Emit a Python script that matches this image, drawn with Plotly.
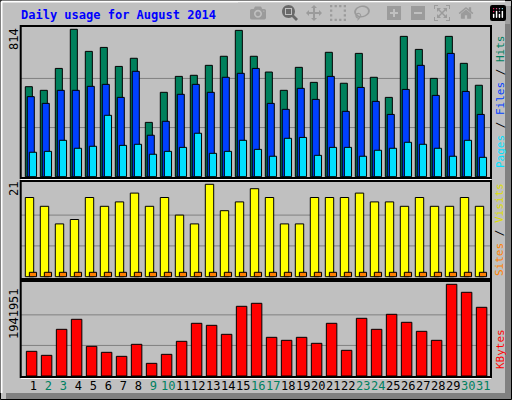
import plotly.graph_objects as go

days = list(range(1, 32))
hits = [497,477,598,814,692,714,609,654,300,466,554,560,615,665,808,665,578,477,604,521,687,516,681,549,438,775,703,543,775,626,505]
files = [442,405,477,477,499,510,438,582,229,306,455,510,466,549,571,598,405,372,488,427,554,361,493,416,344,482,615,449,681,471,344]
pages = [135,140,201,157,168,339,173,179,124,140,162,240,129,140,201,151,113,212,217,118,162,162,113,146,157,190,179,157,113,201,107]
visits = [18,16,12,13,18,16,17,19,16,18,14,12,21,15,17,20,18,12,12,18,18,18,19,17,17,16,18,16,16,18,16]
sites = [1]*31
kbytes = [522551,437819,988624,1200472,628482,501373,416634,670852,268341,459004,734406,1115736,1073366,882701,1475874,1539429,819148,755596,819148,692039,1115736,543744,1221657,988624,1306382,1136918,946254,755596,1941951,1772469,1454690]
weekend = [2,3,9,10,16,17,23,24,30,31]
title = "Daily usage for August 2014"
max_hits, max_visits, max_kb = 814, 21, 1941951

W, H = 512, 400
def px(x): return x / W
def py(y): return 1 - y / H

MONO = "DejaVu Sans Mono, Liberation Mono, monospace"
fig = go.Figure()
ln = dict(color="black", width=1)

def bar(y, color, off, w, ax):
    fig.add_trace(go.Bar(x=days, y=y, offset=off, width=w, marker=dict(color=color, line=ln),
                         xaxis="x", yaxis=ax, showlegend=False, hoverinfo="skip"))

bar(hits, "#00805C", 0.0, 0.47, "y")
bar(files, "#0040FF", 0.13, 0.47, "y")
bar(pages, "#00E0FF", 0.27, 0.48, "y")
bar(visits, "#FFFF00", 0.0, 0.56, "y2")
bar(sites, "#FF8000", 0.27, 0.48, "y2")
bar(kbytes, "#FF0000", 0.07, 0.7, "y3")

xl, xr = 20.7, 491
x0 = 1 - (25.3 - xl) / 15
x1 = x0 + (xr - xl) / 15

def yr(top, bot, base, maxpx, maxv):
    s = (base - maxpx) / maxv
    return [-(bot - base) / s, maxv + (maxpx - top) / s]

panels = [(26, 178, 176.7, 29.3, max_hits), (181, 279, 276.7, 184.3, max_visits), (281, 377, 376, 284.3, max_kb)]
ticktext = [f"<span style='color:{'#008060' if d in weekend else 'black'}'>{d}</span>" for d in days]
layout = dict(
    width=W, height=H, margin=dict(l=0, r=0, t=0, b=0),
    paper_bgcolor="#C0C0C0", plot_bgcolor="#C0C0C0", barmode="overlay",
    xaxis=dict(domain=[px(xl), px(xr)], range=[x0, x1], anchor="y3", tickangle=0,
               tickvals=[d + 0.53 for d in days], ticktext=ticktext, showgrid=False,
               zeroline=False, ticks="", ticklen=0,
               tickfont=dict(family=MONO, size=12, color="black")),
)
names = ["yaxis", "yaxis2", "yaxis3"]
shapes = []
for i, (top, bot, base, mp, mv) in enumerate(panels):
    layout[names[i]] = dict(domain=[py(bot), py(top)], range=yr(top, bot, base, mp, mv),
                            visible=False, fixedrange=True)
    ref = "y" if i == 0 else f"y{i+1}"
    for k in (1, 2):
        shapes.append(dict(type="line", xref="paper", yref=ref, x0=px(xl), x1=px(xr),
                           y0=mv * k / 3, y1=mv * k / 3, line=dict(color="#808080", width=1), layer="below"))
    shapes.append(dict(type="rect", xref="paper", yref="paper", x0=px(xl), x1=px(xr),
                       y0=py(bot), y1=py(top), line=dict(color="black", width=2), layer="above"))
    shapes.append(dict(type="line", xref="paper", yref="paper", x0=px(xl), x1=px(xr),
                       y0=py(bot + 1.5), y1=py(bot + 1.5), line=dict(color="white", width=1)))
shapes += [
    dict(type="rect", xref="paper", yref="paper", x0=px(0.5), x1=px(511.5), y0=py(399.5), y1=py(0.5),
         line=dict(color="black", width=1)),
    dict(type="rect", xref="paper", yref="paper", x0=px(505), x1=px(511), y0=py(393), y1=py(6),
         fillcolor="#808080", line=dict(width=0), layer="below"),
    dict(type="rect", xref="paper", yref="paper", x0=px(6), x1=px(511), y0=py(399), y1=py(393),
         fillcolor="#808080", line=dict(width=0), layer="below"),
    dict(type="line", xref="paper", yref="paper", x0=px(1.5), x1=px(505), y0=py(1.5), y1=py(1.5),
         line=dict(color="white", width=2)),
    dict(type="line", xref="paper", yref="paper", x0=px(1.5), x1=px(1.5), y0=py(1.5), y1=py(393),
         line=dict(color="white", width=2)),
]
layout["shapes"] = shapes

def ann(text, x, y, angle=0, color="black", size=12, xa="center", ya="middle"):
    return dict(text=text, x=px(x), y=py(y), xref="paper", yref="paper", showarrow=False,
                textangle=angle, xanchor=xa, yanchor=ya,
                font=dict(family=MONO, size=size, color=color))

layout["annotations"] = [
    ann(f"<b>{title}</b>", 19, 15, color="#0000FF", size=12, xa="left"),
    ann(str(max_hits), 14, 39, -90),
    ann(str(max_visits), 14, 189, -90),
    ann(str(max_kb), 14, 314, -90),
    ann("<span style='color:#00E0FF'>Pages</span> / <span style='color:#0040FF'>Files</span> / <span style='color:#008060'>Hits</span>",
        500, 102, -90, color="black", size=11),
    ann("<span style='color:#FF8000'>Sites</span> / <span style='color:#DDDD00'>Visits</span>",
        500, 230, -90, size=11),
    ann("KBytes", 500, 349, -90, color="#FF0000", size=11),
]
fig.update_layout(**layout)
fig.write_html("out.html")
with open("out.html", encoding="utf-8") as f:
    html = f.read()
html = html.replace("<head>", "<head><style>html,body{margin:0;padding:0;overflow:hidden}</style>", 1)
with open("out.html", "w", encoding="utf-8") as f:
    f.write(html)
